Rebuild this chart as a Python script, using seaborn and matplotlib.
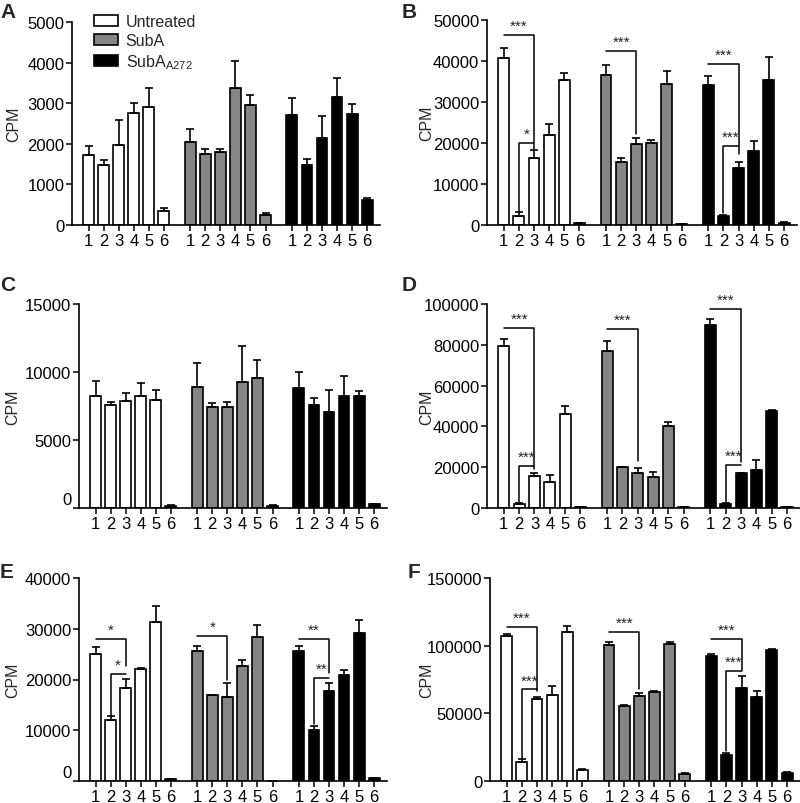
import matplotlib
matplotlib.use("Agg")
import matplotlib.pyplot as plt
import matplotlib.transforms as mtransforms
from matplotlib.patches import Patch
import numpy as np
import pandas as pd
import seaborn as sns

sns.set_theme(style="ticks")
plt.rcParams["font.family"] = ["Liberation Sans", "DejaVu Sans"]

# ---------------- data ----------------
treatments = ["Untreated", "SubA", "SubA272"]
legend_labels = ["Untreated", "SubA", r"SubA$_{\mathregular{A272}}$"]
colors = ["#ffffff", "#858585", "#000000"]
lanes = ["1", "2", "3", "4", "5", "6"]

A_mean = [1727, 1480, 1974, 2755, 2911, 354,
          2039, 1743, 1801, 3372, 2952, 247,
          2706, 1480, 2155, 3158, 2722, 617]
A_sem = [214, 124, 600, 247, 469, 57,
         321, 132, 74, 674, 255, 57,
         427, 148, 542, 452, 255, 41]

B_mean = [40650, 2276, 16420, 22030, 35280, 400,
          36670, 15450, 19670, 19920, 34470, 250,
          34070, 2195, 13980, 18130, 35450, 570]
B_sem = [2440, 814, 1950, 2690, 1870, 150,
         2430, 890, 1470, 890, 3170, 100,
         2350, 165, 1470, 2360, 5610, 150]

C_mean = [8260, 7600, 7890, 8240, 7970, 150,
          8870, 7430, 7400, 9260, 9560, 150,
          8800, 7570, 7030, 8240, 8240, 290]
C_sem = [1080, 170, 570, 950, 730, 50,
         1790, 290, 390, 2680, 1300, 50,
         1180, 540, 1670, 1470, 390, 30]

D_mean = [79250, 1960, 15520, 12910, 46080, 300,
          76960, 19930, 17160, 15360, 40030, 300,
          89870, 2120, 17160, 18790, 47390, 300]
D_sem = [3430, 300, 1800, 3270, 4080, 100,
         5070, 330, 2610, 2120, 1960, 100,
         2780, 330, 160, 4740, 490, 100]

E_mean = [25110, 12070, 18360, 22030, 31410, 330,
          25700, 16850, 16460, 22620, 28390, 80,
          25700, 10100, 17640, 20850, 29250, 520]
E_sem = [1250, 650, 1770, 270, 3150, 130,
         990, 130, 2820, 1180, 2430, 0,
         860, 650, 1700, 1120, 2420, 130]

F_mean = [106970, 14020, 60240, 63190, 110400, 8110,
          100330, 55330, 62700, 65650, 101550, 5160,
          92700, 18930, 68600, 61720, 96640, 6150]
F_sem = [1960, 1960, 1480, 6890, 4430, 490,
         2700, 470, 2460, 990, 990, 440,
         1480, 1970, 9350, 4430, 980, 450]

# significance brackets: (group, lane_a, lane_b, bar height, long-leg side, leg bottom, label)
B_sig = [(0, 0, 2, 46340, "right", 18600, "***"), (0, 1, 2, 19920, "left", 3300, "*"),
         (1, 0, 2, 42520, "right", 22300, "***"), (2, 0, 2, 39270, "right", 17300, "***"),
         (2, 1, 2, 19350, "left", 3000, "***")]
D_sig = [(0, 0, 2, 88070, "right", 19120, "***"), (0, 1, 2, 20750, "left", 2900, "***"),
         (1, 0, 2, 87750, "right", 23200, "***"), (2, 0, 2, 97550, "right", 22390, "***"),
         (2, 1, 2, 21080, "left", 2900, "***")]
E_sig = [(0, 0, 2, 28000, "right", 22750, "*"), (0, 1, 2, 21110, "left", 12920, "*"),
         (1, 0, 2, 28520, "right", 20000, "*"), (2, 0, 2, 28000, "right", 21310, "**"),
         (2, 1, 2, 20260, "left", 11150, "**")]
F_sig = [(0, 0, 2, 113600, "right", 66500, "***"), (0, 1, 2, 67620, "left", 16500, "***"),
         (1, 0, 2, 109910, "right", 67620, "***"), (2, 0, 2, 104990, "right", 82370, "***"),
         (2, 1, 2, 81140, "left", 22130, "***")]

A_ticks = [0, 1000, 2000, 3000, 4000, 5000]
B_ticks = [0, 10000, 20000, 30000, 40000, 50000]
C_ticks = [0, 5000, 10000, 15000]
D_ticks = [0, 20000, 40000, 60000, 80000, 100000]
E_ticks = [0, 10000, 20000, 30000, 40000]
F_ticks = [0, 50000, 100000, 150000]

# ---------------- layout ----------------
GROUP_STEP = 6.75
W, H = 800, 804
fig = plt.figure(figsize=(8.0, 8.04), dpi=100)


def ax_at(left, right, top, bottom):
    return fig.add_axes([left / W, 1 - bottom / H, (right - left) / W, (bottom - top) / H])


panels = [
    ("A", ax_at(72, 380, 23, 226), A_mean, A_sem, A_ticks, None, False, -0.165, (0, 3)),
    ("B", ax_at(487, 797, 21, 226), B_mean, B_sem, B_ticks, B_sig, False, -0.17, (402, 3)),
    ("C", ax_at(79, 387, 305, 509), C_mean, C_sem, C_ticks, None, True, -0.19, (0, 276)),
    ("D", ax_at(487, 800, 305, 509), D_mean, D_sem, D_ticks, D_sig, False, -0.17, (402, 276)),
    ("E", ax_at(79, 387, 579, 782), E_mean, E_sem, E_ticks, E_sig, True, -0.19, (0, 563)),
    ("F", ax_at(490, 800, 579, 782), F_mean, F_sem, F_ticks, F_sig, False, -0.18, (408, 563)),
]

positions = [g * GROUP_STEP + i for g in range(3) for i in range(6)]
hue_col = [treatments[g] for g in range(3) for i in range(6)]
tick_labels = lanes * 3

for letter, ax, mean, sem, yticks, sig, lift_zero, ylab_x, letter_xy in panels:
    df = pd.DataFrame({"pos": positions, "value": mean, "treatment": hue_col})
    sns.barplot(data=df, x="pos", y="value", hue="treatment", hue_order=treatments,
                palette=colors, native_scale=True, dodge=False, errorbar=None,
                width=0.72, edgecolor="black", linewidth=1.2, legend=False, ax=ax)
    ax.errorbar(positions, mean, yerr=[np.zeros(len(sem)), sem], fmt="none",
                ecolor="black", elinewidth=1.2, capsize=2.8, capthick=1.2, zorder=5)

    ax.set_xlim(-1.1, 5 + 2 * GROUP_STEP + 0.85)
    ax.set_ylim(0, yticks[-1])
    ax.set_yticks(yticks)
    ax.set_yticklabels([str(t) for t in yticks], fontsize=12)
    ax.set_xticks(positions)
    ax.set_xticklabels(tick_labels, fontsize=12)
    ax.set_xlabel("")
    ax.set_ylabel("CPM", fontsize=11.5)
    ax.yaxis.set_label_coords(ylab_x, 0.5)
    sns.despine(ax=ax)
    for s in ("left", "bottom"):
        ax.spines[s].set_linewidth(1.2)
        ax.spines[s].set_color("black")
    ax.tick_params(axis="y", length=4, width=1.1, pad=1.5, colors="black")
    ax.tick_params(axis="x", length=4, width=1.1, pad=2, colors="black")

    if lift_zero:
        lab = ax.get_yticklabels()[0]
        lab.set_transform(lab.get_transform() +
                          mtransforms.ScaledTranslation(0, 7 / 72, fig.dpi_scale_trans))

    if sig:
        for g, a, b, yb, side, leg_bot, txt in sig:
            xa = g * GROUP_STEP + a
            xb = g * GROUP_STEP + b
            if side == "right":
                xs, ys = [xa, xb, xb], [yb, yb, leg_bot]
            else:
                xs, ys = [xb, xa, xa], [yb, yb, leg_bot]
            ax.plot(xs, ys, color="black", lw=1.1, clip_on=False, zorder=6)
            ax.annotate(txt, xy=((xa + xb) / 2, yb), xytext=(0, 1.5), textcoords="offset points",
                        ha="center", va="bottom", fontsize=11, color="#222222")

    fig.text(letter_xy[0] / W, 1 - letter_xy[1] / H, letter, fontsize=15, fontweight="bold",
             ha="left", va="top")

# legend in panel A
axA = panels[0][1]
handles = [Patch(facecolor=c, edgecolor="black", linewidth=1.2) for c in colors]
axA.legend(handles, legend_labels, loc="upper left", bbox_to_anchor=(0.05, 1.07),
           frameon=False, fontsize=11.5, handlelength=1.5, handleheight=0.6,
           labelspacing=0.25, handletextpad=0.5, borderaxespad=0)

fig.savefig("out.png", dpi=100)
